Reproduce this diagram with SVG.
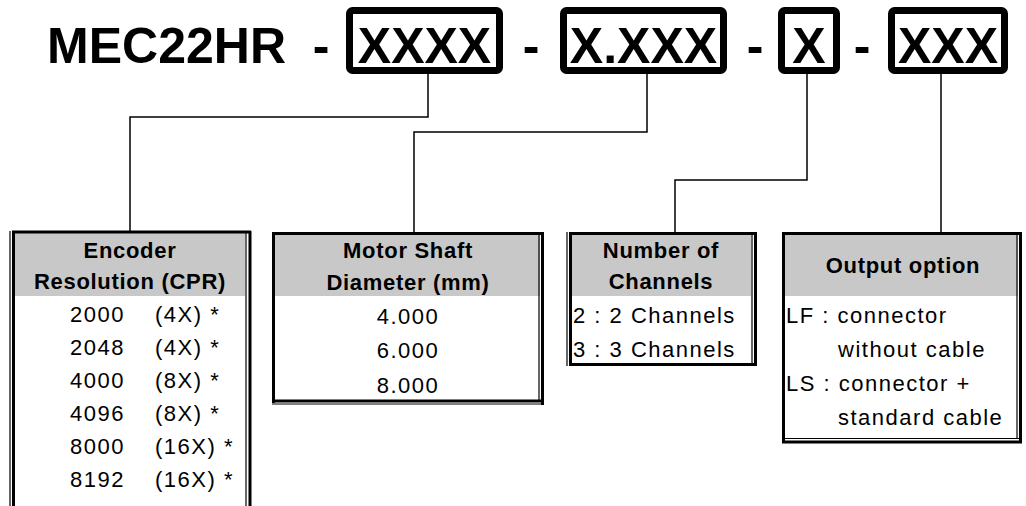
<svg xmlns="http://www.w3.org/2000/svg" width="1026" height="506" viewBox="0 0 1026 506">
<style>
text{font-family:"Liberation Sans",Arial,Helvetica,sans-serif;fill:#000}
.big{font-size:50px;font-weight:bold}
.hd{font-size:22px;font-weight:bold;letter-spacing:0.7px}
.bd{font-size:22px;letter-spacing:1.5px}
.code{fill:#fff;stroke:#000;stroke-width:7}
.hdr{fill:#c8c8c8}
.thick{stroke:#000;stroke-width:3;fill:none}
.thin{stroke:#000;stroke-width:1.2;fill:none}
.conn{stroke:#000;stroke-width:1.5;fill:none}
</style>
<rect width="1026" height="506" fill="#fff"/>
<g id="title">
<text class="big" x="286" y="63" text-anchor="end">MEC22HR</text>
<text class="big" x="321" y="63" text-anchor="middle">-</text>
<text class="big" x="531" y="63" text-anchor="middle">-</text>
<text class="big" x="755" y="63" text-anchor="middle">-</text>
<text class="big" x="862" y="63" text-anchor="middle">-</text>
</g>
<g id="code1"><rect class="code" x="349.5" y="10.5" width="150" height="60" rx="3"/><text class="big" x="424.5" y="63" text-anchor="middle">XXXX</text></g>
<g id="code2"><rect class="code" x="563.5" y="10.5" width="160" height="60" rx="3"/><text class="big" x="643.5" y="63" text-anchor="middle">X.XXX</text></g>
<g id="code3"><rect class="code" x="781.5" y="10.5" width="55" height="60" rx="3"/><text class="big" x="809" y="63" text-anchor="middle">X</text></g>
<g id="code4"><rect class="code" x="891.5" y="10.5" width="113" height="60" rx="3"/><text class="big" x="948" y="63" text-anchor="middle">XXX</text></g>
<g id="connectors">
<path class="conn" d="M428 74V117H130V231"/>
<path class="conn" d="M647 74V132H414V232"/>
<path class="conn" d="M807 74V180H675V232"/>
<path class="conn" d="M941 74V233"/>
</g>
<g id="encoder">
<rect class="hdr" x="15" y="233" width="230" height="63"/>
<line class="thin" x1="10" y1="231" x2="10" y2="506"/>
<line class="thick" x1="13.5" y1="231" x2="13.5" y2="506"/>
<line class="thick" x1="12" y1="232" x2="251" y2="232"/>
<line class="thin" x1="246" y1="233" x2="246" y2="506"/>
<line class="thick" x1="250" y1="231" x2="250" y2="506"/>
<text class="hd" x="130" y="258" text-anchor="middle">Encoder</text>
<text class="hd" x="130" y="289" text-anchor="middle">Resolution (CPR)</text>
<g class="bd">
<text x="70" y="322">2000</text><text x="155" y="322">(4X) *</text>
<text x="70" y="355">2048</text><text x="155" y="355">(4X) *</text>
<text x="70" y="388">4000</text><text x="155" y="388">(8X) *</text>
<text x="70" y="421">4096</text><text x="155" y="421">(8X) *</text>
<text x="70" y="454">8000</text><text x="155" y="454">(16X) *</text>
<text x="70" y="487">8192</text><text x="155" y="487">(16X) *</text>
</g>
</g>
<g id="motor">
<rect class="hdr" x="274" y="234" width="266" height="62"/>
<line class="thick" x1="273.5" y1="232" x2="273.5" y2="403"/>
<line class="thick" x1="272" y1="233.5" x2="544" y2="233.5"/>
<line class="thin" x1="539" y1="234" x2="539" y2="400"/>
<line class="thick" x1="542.5" y1="232" x2="542.5" y2="405"/>
<line class="thick" x1="272" y1="401" x2="544" y2="401"/>
<line class="thin" x1="272" y1="404" x2="544" y2="404"/>
<text class="hd" x="408" y="258" text-anchor="middle">Motor Shaft</text>
<text class="hd" x="408" y="290" text-anchor="middle">Diameter (mm)</text>
<text class="bd" x="408" y="324" text-anchor="middle">4.000</text>
<text class="bd" x="408" y="358" text-anchor="middle">6.000</text>
<text class="bd" x="408" y="393" text-anchor="middle">8.000</text>
</g>
<g id="channels">
<rect class="hdr" x="571" y="234" width="180" height="62"/>
<line class="thin" x1="567" y1="232" x2="567" y2="366"/>
<line class="thick" x1="570.5" y1="232" x2="570.5" y2="366"/>
<line class="thick" x1="569" y1="233.5" x2="756" y2="233.5"/>
<line class="thin" x1="752" y1="234" x2="752" y2="363"/>
<line class="thick" x1="755.5" y1="232" x2="755.5" y2="366"/>
<line class="thick" x1="569" y1="364.5" x2="757" y2="364.5"/>
<text class="hd" x="661" y="258" text-anchor="middle">Number of</text>
<text class="hd" x="661" y="289" text-anchor="middle">Channels</text>
<text class="bd" x="573" y="323">2 : 2 Channels</text>
<text class="bd" x="573" y="357">3 : 3 Channels</text>
</g>
<g id="output">
<rect class="hdr" x="785" y="235" width="233" height="61"/>
<line class="thick" x1="783.5" y1="232" x2="783.5" y2="443"/>
<line class="thick" x1="782" y1="233.5" x2="1022" y2="233.5"/>
<line class="thin" x1="1017" y1="234" x2="1017" y2="438"/>
<line class="thick" x1="1020.5" y1="232" x2="1020.5" y2="443"/>
<line class="thin" x1="782" y1="438.5" x2="1022" y2="438.5"/>
<line class="thick" x1="782" y1="442" x2="1022" y2="442"/>
<text class="hd" x="903" y="273" text-anchor="middle">Output option</text>
<text class="bd" x="786" y="323">LF : connector</text>
<text class="bd" x="838" y="357">without cable</text>
<text class="bd" x="786" y="391">LS : connector +</text>
<text class="bd" x="838" y="425">standard cable</text>
</g>
</svg>
